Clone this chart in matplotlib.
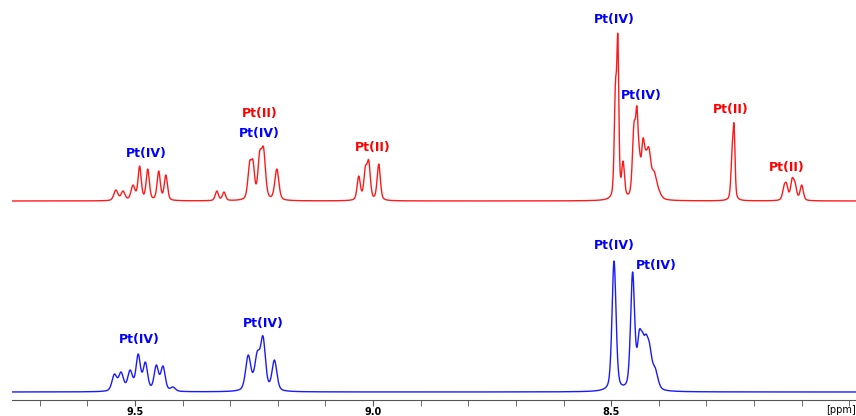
import numpy as np
import matplotlib
matplotlib.use("Agg")
import matplotlib.pyplot as plt
from matplotlib.ticker import MultipleLocator, FixedLocator

# --- peak tables (ppm, apparent height, FWHM in ppm) ---
red_ppm = [9.540, 9.525, 9.504, 9.490, 9.473, 9.450, 9.435, 9.328, 9.313,
           9.259, 9.252, 9.238, 9.230, 9.202,
           9.030, 9.016, 9.009, 8.988,
           8.491, 8.486, 8.475,
           8.452, 8.446, 8.441, 8.433, 8.427, 8.421, 8.410, 8.400,
           8.246, 8.242,
           8.137, 8.132, 8.120, 8.114, 8.100]
red_height = [11, 10, 16, 35, 32, 30, 26, 10, 9,
              40, 41, 50, 54, 32,
              25, 35, 41, 37,
              120, 167, 40,
              79, 95, 54, 63, 51, 54, 30, 12,
              55, 77,
              16, 18, 23, 19, 16]
red_fwhm = [.010, .010, .010, .008, .008, .008, .008, .008, .008,
            .009, .008, .009, .010, .010,
            .008, .008, .008, .008,
            .006, .005, .007,
            .008, .006, .007, .008, .008, .010, .013, .013,
            .006, .005,
            .008, .008, .008, .008, .008]

blue_ppm = [9.543, 9.529, 9.510, 9.493, 9.478, 9.455, 9.441, 9.420,
            9.262, 9.243, 9.231, 9.207,
            8.494, 8.455, 8.441, 8.434, 8.427, 8.420, 8.408]
blue_height = [18, 20, 22, 38, 30, 27, 26, 5,
               37, 41, 56, 32,
               131, 120, 62, 60, 58, 50, 25]
blue_fwhm = [.012, .012, .012, .011, .011, .011, .011, .012,
             .013, .013, .012, .012,
             .010, .010, .010, .010, .010, .012, .014]

# annotations: (text, ppm, height above baseline, colour)
red_labels = [("Pt(IV)", 9.475, 48, "blue"),
              ("Pt(II)", 9.238, 88, "red"),
              ("Pt(IV)", 9.238, 68, "blue"),
              ("Pt(II)", 9.001, 54, "red"),
              ("Pt(IV)", 8.494, 182, "blue"),
              ("Pt(IV)", 8.437, 105, "blue"),
              ("Pt(II)", 8.250, 92, "red"),
              ("Pt(II)", 8.132, 34, "red")]
blue_labels = [("Pt(IV)", 9.490, 53, "blue"),
               ("Pt(IV)", 9.230, 69, "blue"),
               ("Pt(IV)", 8.494, 146, "blue"),
               ("Pt(IV)", 8.405, 127, "blue")]

top_offset = 191
ppm = np.linspace(9.76, 7.98, 4000)


def shape(x, x0, fwhm, eta=0.4):
    hw = fwhm / 2
    lor = 1 / (1 + ((x - x0) / hw) ** 2)
    gau = np.exp(-np.log(2) * ((x - x0) / hw) ** 2)
    return eta * lor + (1 - eta) * gau


def spectrum(pos, heights, widths):
    pos = np.array(pos)
    # scale amplitudes so the summed curve passes through the read heights
    m = np.array([[shape(p, q, w) for q, w in zip(pos, widths)] for p in pos])
    amp = np.clip(np.linalg.solve(m, np.array(heights, float)), 0, None)
    y = np.zeros_like(ppm)
    for a, q, w in zip(amp, pos, widths):
        y += a * shape(ppm, q, w)
    return y


red = spectrum(red_ppm, red_height, red_fwhm)
blue = spectrum(blue_ppm, blue_height, blue_fwhm)

fig = plt.figure(figsize=(8.56, 4.16), dpi=100)
ax = fig.add_axes([12 / 856, 16 / 416, 844 / 856, 400 / 416])
ax.plot(ppm, red + top_offset, color="#ff1a1a", lw=1.0)
ax.plot(ppm, blue, color="#1a1aff", lw=1.0)

for txt, x, h, c in red_labels:
    ax.text(x, top_offset + h, txt, color=c, fontsize=9, fontweight="bold",
            ha="center", va="center")
for txt, x, h, c in blue_labels:
    ax.text(x, h, txt, color=c, fontsize=9, fontweight="bold",
            ha="center", va="center")

ax.set_xlim(9.758, 7.986)
ax.set_ylim(-8, 392)
for s in ["top", "left", "right"]:
    ax.spines[s].set_visible(False)
ax.spines["bottom"].set_color("#555555")
ax.set_yticks([])
ax.xaxis.set_major_locator(FixedLocator([9.5, 9.0, 8.5]))
ax.xaxis.set_minor_locator(MultipleLocator(0.1))
ax.tick_params(axis="x", which="both", direction="out", length=4,
               color="#555555", labelsize=7, pad=1)
ax.set_xticklabels(["9.5", "9.0", "8.5"], fontweight="bold")
ax.text(8.048, -0.012, "[ppm]", transform=ax.get_xaxis_transform(),
        fontsize=7, ha="left", va="top", clip_on=False)

fig.savefig("out.png", dpi=100)
